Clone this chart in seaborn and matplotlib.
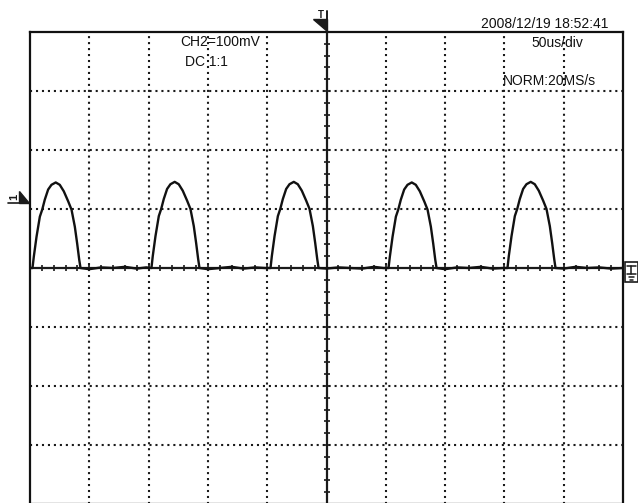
import numpy as np
import pandas as pd
import matplotlib
matplotlib.use("Agg")
import matplotlib.pyplot as plt
from matplotlib.patches import Polygon, Rectangle
from matplotlib.lines import Line2D
import seaborn as sns

# ---- data (time in us, 0 = trigger/center; voltage in mV) ----
head_t = [-250.0]
head_v = [0]
pulse1_t = [-247.9, -246.8, -244.5, -241.7, -239.7, -237.5, -234.7, -231.9, -228.3,
            -224.9, -221.5, -217.8, -215.0, -212.2, -210.2, -208.5, -207.4]
pulse1_v = [0, 19, 53, 87, 99, 116, 133, 141, 145, 141, 130, 113, 99, 70, 41, 14, 0]
gap1_t = [-200.0, -190.0, -180.0, -170.0, -160.0, -152.0]
gap1_v = [-2, 1, 0, 2, -1, 1]
pulse2_t = [-147.6, -146.5, -144.2, -141.4, -139.4, -137.2, -134.4, -131.6, -128.0,
            -124.6, -121.2, -117.5, -114.7, -111.9, -109.9, -108.2, -107.1]
pulse2_v = [0, 20, 54, 88, 100, 117, 134, 142, 146, 142, 131, 114, 100, 71, 42, 15, 0]
gap2_t = [-100.0, -90.0, -80.0, -70.0, -60.0, -52.0]
gap2_v = [-2, 0, 2, -1, 1, 0]
pulse3_t = [-47.2, -46.1, -43.8, -41.0, -39.0, -36.8, -34.0, -31.2, -27.6,
            -24.2, -20.8, -17.1, -14.3, -11.5, -9.5, -7.8, -6.7]
pulse3_v = [0, 20, 54, 88, 100, 117, 134, 142, 146, 142, 131, 114, 100, 71, 42, 15, 0]
gap3_t = [0.0, 10.0, 20.0, 30.0, 40.0, 48.0]
gap3_v = [-1, 1, 0, -1, 2, 0]
pulse4_t = [52.3, 53.4, 55.7, 58.5, 60.5, 62.7, 65.5, 68.3, 71.9,
            75.3, 78.7, 82.4, 85.2, 88.0, 90.0, 91.7, 92.8]
pulse4_v = [0, 19, 53, 87, 99, 116, 133, 141, 145, 141, 130, 113, 99, 70, 41, 14, 0]
gap4_t = [100.0, 110.0, 120.0, 130.0, 140.0, 149.0]
gap4_v = [-2, 1, 0, 2, -1, 0]
pulse5_t = [152.6, 153.7, 156.0, 158.8, 160.8, 163.0, 165.8, 168.6, 172.2,
            175.6, 179.0, 182.7, 185.5, 188.3, 190.3, 192.0, 193.1]
pulse5_v = [0, 20, 54, 88, 100, 117, 134, 142, 146, 142, 131, 114, 100, 71, 42, 15, 0]
tail_t = [200.0, 210.0, 220.0, 230.0, 240.0, 250.0]
tail_v = [-1, 2, 0, 1, -1, 0]

labels_top = ["CH2=100mV", "DC 1:1", "2008/12/19 18:52:41", "50us/div", "NORM:20MS/s"]

t_us = head_t + pulse1_t + gap1_t + pulse2_t + gap2_t + pulse3_t + gap3_t + pulse4_t + gap4_t + pulse5_t + tail_t
v_mv = head_v + pulse1_v + gap1_v + pulse2_v + gap2_v + pulse3_v + gap3_v + pulse4_v + gap4_v + pulse5_v + tail_v
df = pd.DataFrame({"t": t_us, "v": v_mv})

# ---- figure ----
sns.set_style("white")
plt.rcParams["font.family"] = ["Liberation Sans", "DejaVu Sans"]
plt.rcParams["lines.scale_dashes"] = False

W, H = 638, 503
fig = plt.figure(figsize=(W / 100, H / 100), dpi=100)
fig.patch.set_facecolor("white")

def fx(x):
    return x / W

def fy(y):
    return 1 - y / H

left, right, top, bottom = 30, 623, 32, 504
ax = fig.add_axes([fx(left), fy(bottom), (right - left) / W, (bottom - top) / H])
ax.set_xlim(-250, 250)
ax.set_ylim(-400, 400)
ax.set_xticks([])
ax.set_yticks([])
for s in ax.spines.values():
    s.set_linewidth(1.6)
    s.set_color("#111111")

ink = "#1a1a1a"
dot = (0, (1.5, 2.8))
for xv in [-200, -150, -100, -50, 50, 100, 150, 200]:
    ax.axvline(xv, color=ink, lw=1.5, linestyle=dot, dash_capstyle="butt", zorder=1)
for yv in [-300, -200, -100, 100, 200, 300]:
    ax.axhline(yv, color=ink, lw=1.5, linestyle=dot, dash_capstyle="butt", zorder=1)

# center cross with small ticks
ax.axvline(0, color=ink, lw=1.6, zorder=2)
ax.axhline(0, color=ink, lw=1.6, zorder=2)
tx = np.arange(-240, 250, 10)
ax.plot(tx, np.zeros_like(tx), marker="|", ms=5, mew=1.2, ls="none", color=ink, zorder=2)
ty = np.arange(-380, 400, 20)
ax.plot(np.zeros_like(ty), ty, marker="_", ms=5, mew=1.2, ls="none", color=ink, zorder=2)

# trace
sns.lineplot(data=df, x="t", y="v", ax=ax, color="#111111", lw=1.7, estimator=None,
             sort=True, legend=False, zorder=3, solid_joinstyle="round", solid_capstyle="round")
ax.set_xlabel("")
ax.set_ylabel("")

# ---- text labels ----
tc = "#111111"
fs = 10
fig.text(fx(180), fy(42), labels_top[0], fontsize=fs, color=tc, ha="left", va="center")
fig.text(fx(185), fy(62), labels_top[1], fontsize=fs, color=tc, ha="left", va="center")
fig.text(fx(481), fy(24), labels_top[2], fontsize=fs, color=tc, ha="left", va="center")
fig.text(fx(531), fy(43), labels_top[3], fontsize=fs, color=tc, ha="left", va="center")
fig.text(fx(503), fy(81), labels_top[4], fontsize=fs, color=tc, ha="left", va="center")

# ---- screen markers ----
# trigger marker at top
fig.patches.append(Polygon([(fx(313), fy(19)), (fx(327), fy(19)), (fx(327), fy(31))],
                           closed=True, color=ink, transform=fig.transFigure))
fig.lines.append(Line2D([fx(327), fx(327)], [fy(11), fy(32)], color=ink, lw=1.4,
                        transform=fig.transFigure))
fig.text(fx(321), fy(15), "T", fontsize=7, fontweight="bold", color=ink, ha="center", va="center")

# channel 1 marker on the left
fig.text(fx(14), fy(197), "1", fontsize=8, fontweight="bold", color=ink, rotation=90,
         ha="center", va="center")
fig.patches.append(Polygon([(fx(19), fy(191)), (fx(19), fy(203)), (fx(29), fy(203))],
                           closed=True, color=ink, transform=fig.transFigure))
fig.lines.append(Line2D([fx(8), fx(29)], [fy(203), fy(203)], color=ink, lw=1.2,
                        transform=fig.transFigure))

# ground marker on the right
fig.patches.append(Rectangle((fx(625), fy(282)), fx(13), 20 / H, fill=False, ec=ink, lw=1.2,
                             transform=fig.transFigure))
fig.lines.append(Line2D([fx(627), fx(636)], [fy(266), fy(266)], color=ink, lw=1.1, transform=fig.transFigure))
fig.lines.append(Line2D([fx(631), fx(631)], [fy(266), fy(274)], color=ink, lw=1.1, transform=fig.transFigure))
fig.lines.append(Line2D([fx(627), fx(636)], [fy(274), fy(274)], color=ink, lw=1.1, transform=fig.transFigure))
fig.lines.append(Line2D([fx(629), fx(634)], [fy(277), fy(277)], color=ink, lw=1.1, transform=fig.transFigure))
fig.lines.append(Line2D([fx(630), fx(633)], [fy(280), fy(280)], color=ink, lw=1.1, transform=fig.transFigure))

fig.savefig("out.png", dpi=100, facecolor="white")
